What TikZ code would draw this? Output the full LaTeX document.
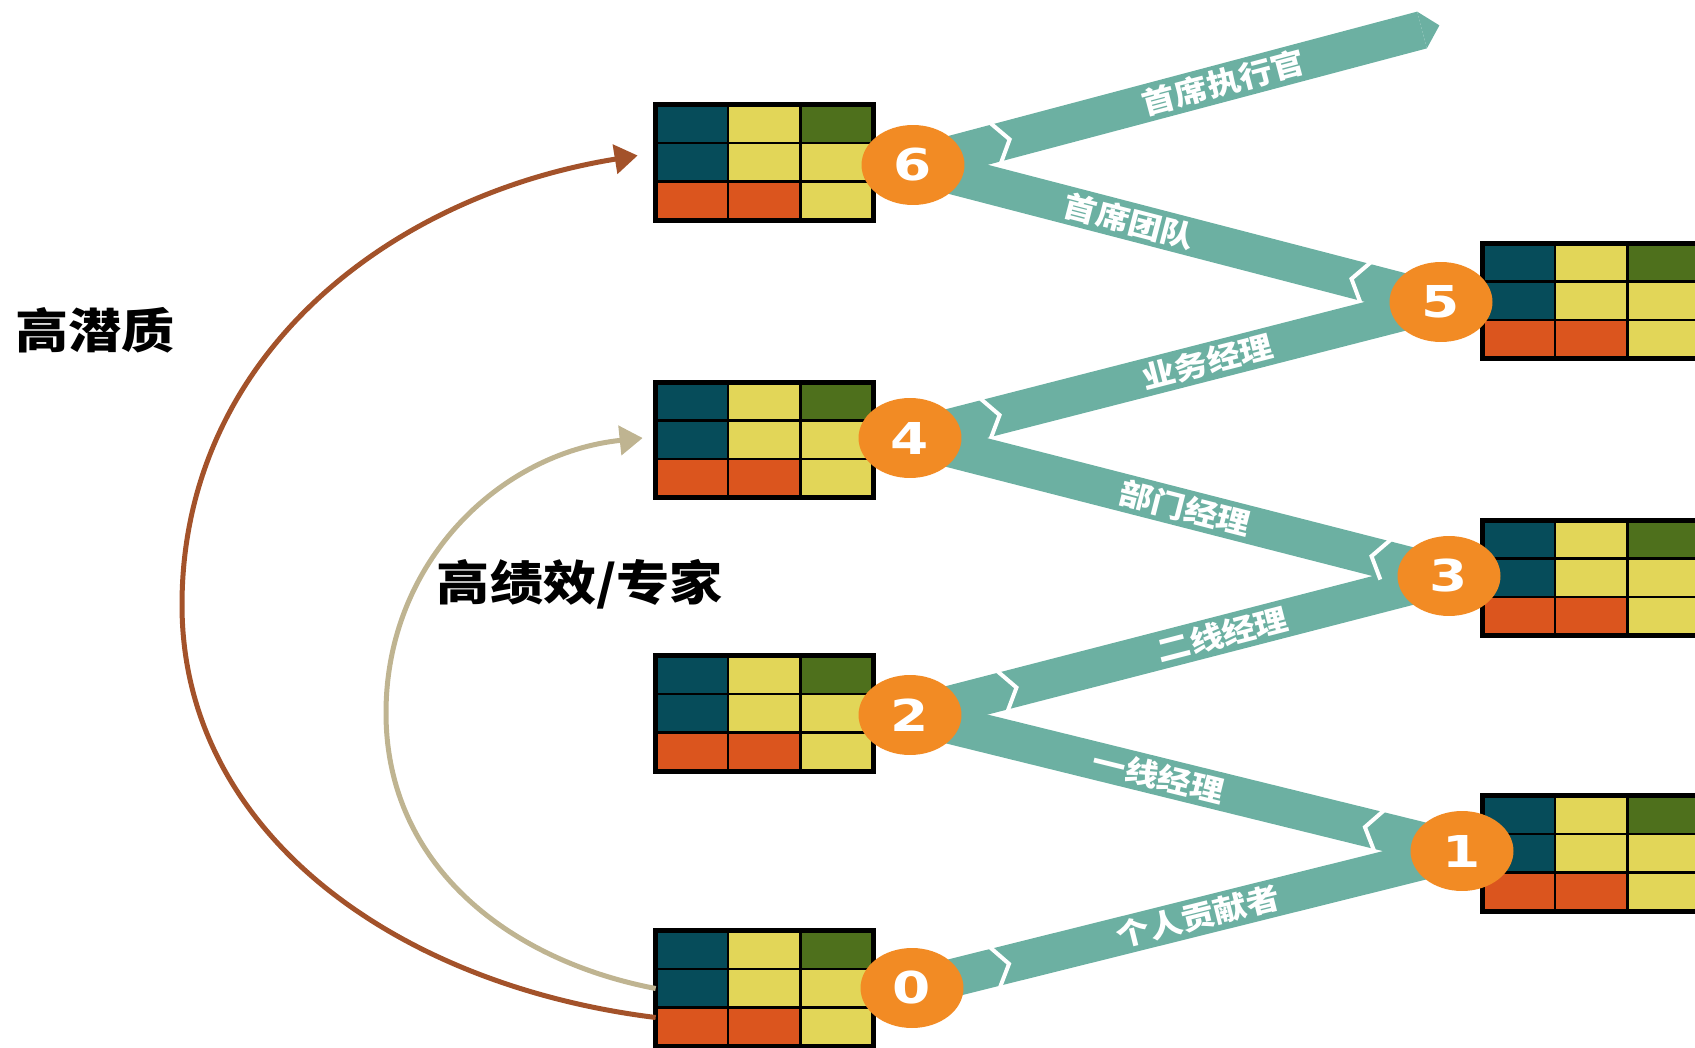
\documentclass[tikz,border=0pt]{standalone}
\usepackage{fontspec}
\usepackage{xcolor}
\usetikzlibrary{shapes.geometric,calc,arrows.meta,backgrounds}

\newfontfamily\cjk[FakeStretch=1.12]{Noto Sans CJK SC}
\newfontfamily\digits[FakeStretch=1.25]{DejaVu Sans}

\definecolor{bandteal}{RGB}{108,176,162}
\definecolor{lvlorange}{RGB}{242,139,36}
\definecolor{celldark}{RGB}{6,76,90}
\definecolor{cellyellow}{RGB}{226,214,88}
\definecolor{cellgreen}{RGB}{78,112,28}
\definecolor{cellred}{RGB}{219,85,30}
\definecolor{arcbrown}{RGB}{163,82,42}
\definecolor{arctan}{RGB}{191,180,145}

% nine-box grid drawn inside a grid node
\newcommand{\cells}[1]{%
  \foreach \cx/\ry/\clr in {0/0/celldark, 1/0/cellyellow, 2/0/cellgreen,
                            0/1/celldark, 1/1/cellyellow, 2/1/cellyellow,
                            0/2/cellred,  1/2/cellred,    2/2/cellyellow}
    \filldraw[fill=\clr, draw=black, line width=0.05cm]
      ($(#1.north west)+(\cx*72.33,\ry*38.33)$) rectangle +(72.33,38.33);
  \draw[black, line width=0.1cm] (#1.north west) rectangle (#1.south east);
}

% white chevron cut across a band, #3 away from #1
\newcommand{\notch}[3]{%
  \coordinate (n) at ($(#1)!#3!(#2)$);
  \draw[notchline] ($(n)!0.5cm!125:(#2)$) -- (n) -- ($(n)!0.5cm!-125:(#2)$);
}

\begin{document}
\begin{tikzpicture}[x=0.02cm, y=-0.02cm]
    \tikzstyle{grid}=[rectangle, minimum width=4.34cm, minimum height=2.3cm, inner sep=0]
    \tikzstyle{level}=[ellipse, fill=lvlorange, minimum width=2.06cm, minimum height=1.6cm,
                       inner sep=0, text=white, font=\digits\bfseries\fontsize{25}{25}\selectfont]
    \tikzstyle{band}=[draw=bandteal, line width=0.76cm]
    \tikzstyle{bandlabel}=[sloped, text=white, inner sep=0, font=\cjk\bfseries\fontsize{17}{17}\selectfont]
    \tikzstyle{notchline}=[draw=white, line width=0.08cm, line join=miter]
    \tikzstyle{heading}=[font=\cjk\bfseries\fontsize{27}{27}\selectfont]
    \tikzstyle{potential}=[draw=arcbrown, line width=0.1cm, -{Triangle[length=0.46cm,width=0.58cm]}]
    \tikzstyle{expert}=[draw=arctan, line width=0.1cm, -{Triangle[length=0.46cm,width=0.58cm]}]

    \useasboundingbox (0,0) rectangle (1695,1048);
    \clip (0,0) rectangle (1695,1048);

    % grids
    \node[grid] (g6) at (764.5,162.5) {};
    \node[grid] (g4) at (764.5,440) {};
    \node[grid] (g2) at (764.5,713.5) {};
    \node[grid] (g0) at (764.5,988.5) {};
    \node[grid] (g5) at (1591.5,301) {};
    \node[grid] (g3) at (1591.5,578) {};
    \node[grid] (g1) at (1591.5,853.5) {};
    \foreach \g in {g0,g1,g2,g3,g4,g5,g6} {\cells{\g}}

    % levels
    \node[level] (c0) at (912,988) {0};
    \node[level] (c1) at (1462,851) {1};
    \node[level] (c2) at (910,715) {2};
    \node[level] (c3) at (1449,576) {3};
    \node[level] (c4) at (910,438) {4};
    \node[level] (c5) at (1441,302) {5};
    \node[level] (c6) at (913,165) {6};
    \coordinate (top) at (1422,30);

    % zigzag path
    \begin{scope}[on background layer]
        \draw [band] (c0.center) -- (c1.center) node[bandlabel, pos=0.52] {个人贡献者};
        \draw [band] (c1.center) -- (c2.center) node[bandlabel, pos=0.55] {一线经理};
        \draw [band] (c2.center) -- (c3.center) node[bandlabel, pos=0.58] {二线经理};
        \draw [band] (c3.center) -- (c4.center) node[bandlabel, pos=0.49] {部门经理};
        \draw [band] (c4.center) -- (c5.center) node[bandlabel, pos=0.56] {业务经理};
        \draw [band] (c5.center) -- (c6.center) node[bandlabel, pos=0.59] {首席团队};
        \draw [band] (c6.center) -- (top) node[bandlabel, pos=0.61] {首席执行官};
        \fill[bandteal] ($(top)!0.38cm!90:(c6)$) -- ($(top)!-0.36cm!(c6)$) -- ($(top)!0.38cm!-90:(c6)$) -- cycle;

        \notch{c0}{c1}{2.0cm}
        \notch{c1}{c2}{2.0cm}
        \notch{c2}{c3}{2.2cm}
        \notch{c3}{c4}{1.6cm}
        \notch{c4}{c5}{1.85cm}
        \notch{c5}{c6}{1.85cm}
        \notch{c6}{top}{2.0cm}
    \end{scope}

    % career jumps
    \draw [potential] ($(g0.west)+(0,29)$) .. controls (394,985) and (182,831) .. (182,605)
                      .. controls (182,358) and (387,196) .. ($(g6.west)+(-18,-7)$);
    \draw [expert] (g0.west) .. controls (507,960) and (386,864) .. (386,713)
                   .. controls (386,562) and (500,453) .. ($(g4.west)+(-13,-2)$);

    \node[heading] (hipo) at (95,330) {高潜质};
    \node[heading] (hiperf) at (580,584) {高绩效/专家};
\end{tikzpicture}
\end{document}
